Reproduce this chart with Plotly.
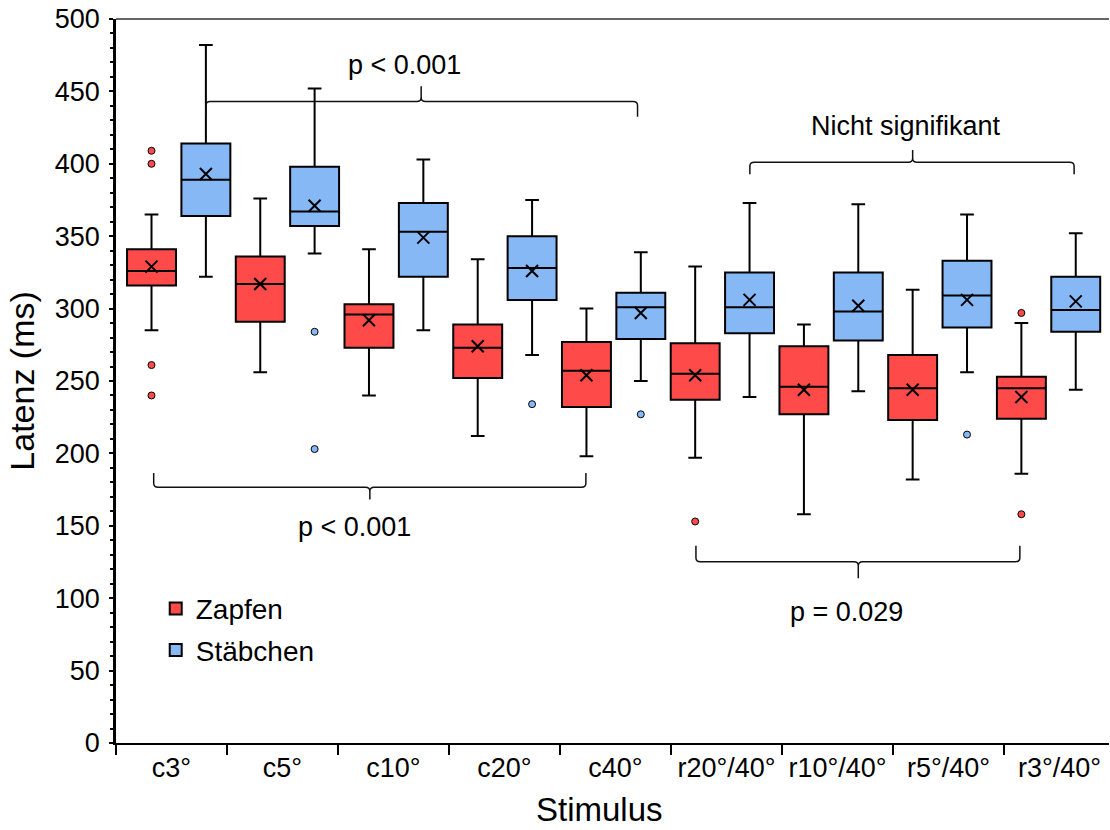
import plotly.graph_objects as go

# ---------------- data ----------------
categories = ["c3°", "c5°", "c10°", "c20°", "c40°", "r20°/40°", "r10°/40°", "r5°/40°", "r3°/40°"]

# Zapfen (cones)
zapfen_lower = [285, 256, 240, 212, 198, 197, 158, 182, 186]
zapfen_q1 = [316, 291, 273, 252, 232, 237, 227, 223, 224]
zapfen_median = [326, 317, 296, 273, 257, 255, 246, 245, 245]
zapfen_q3 = [341, 336, 303, 289, 277, 276, 274, 268, 253]
zapfen_upper = [365, 376, 341, 334, 300, 329, 289, 313, 290]
zapfen_mean = [329, 317, 292, 274, 254, 254, 244, 244, 239]
zapfen_out_cat = ["c3°", "c3°", "c3°", "c3°", "r20°/40°", "r3°/40°", "r3°/40°"]
zapfen_out_val = [409, 400, 261, 240, 153, 297, 158]

# Stäbchen (rods)
staebchen_lower = [322, 338, 285, 268, 250, 239, 243, 256, 244]
staebchen_q1 = [364, 357, 322, 306, 279, 283, 278, 287, 284]
staebchen_median = [389, 367, 353, 328, 301, 301, 298, 309, 299]
staebchen_q3 = [414, 398, 373, 350, 311, 325, 325, 333, 322]
staebchen_upper = [482, 452, 403, 375, 339, 373, 372, 365, 352]
staebchen_mean = [393, 371, 349, 326, 297, 306, 302, 306, 305]
staebchen_out_cat = ["c5°", "c5°", "c20°", "c40°", "r5°/40°"]
staebchen_out_val = [284, 203, 234, 227, 213]

# ---------------- styling ----------------
RED = "#FF4A4A"
BLUE = "#85B8F5"
FONT = "Liberation Sans, Arial, sans-serif"

fig = go.Figure()
n = len(categories)
zapfen_pos = [i - 0.25 for i in range(n)]
staebchen_pos = [i + 0.25 for i in range(n)]

# invisible trace that establishes the category axis
fig.add_trace(go.Scatter(x=categories, y=zapfen_median, mode="markers",
                         marker=dict(opacity=0), showlegend=False, hoverinfo="skip"))


def add_series(name, pos, lo, q1, med, q3, up, mean, out_cat, out_val, color):
    fig.add_trace(go.Box(
        name=name, x=pos, q1=q1, median=med, q3=q3, lowerfence=lo, upperfence=up,
        fillcolor=color, line=dict(color="black", width=2), width=0.45,
        whiskerwidth=0.28, boxpoints=False, xaxis="x2", yaxis="y",
        legendgroup=name, showlegend=True))
    fig.add_trace(go.Scatter(
        x=pos, y=mean, mode="markers", xaxis="x2", yaxis="y",
        marker=dict(symbol="x-thin", size=12, color="black",
                    line=dict(color="black", width=2)),
        showlegend=False, legendgroup=name, hoverinfo="y"))
    ox = [pos[categories.index(c)] for c in out_cat]
    fig.add_trace(go.Scatter(
        x=ox, y=out_val, mode="markers", xaxis="x2", yaxis="y",
        marker=dict(symbol="circle", size=7, color=color,
                    line=dict(color="black", width=1)),
        showlegend=False, legendgroup=name, hoverinfo="y"))


add_series("Zapfen", zapfen_pos, zapfen_lower, zapfen_q1, zapfen_median, zapfen_q3,
           zapfen_upper, zapfen_mean, zapfen_out_cat, zapfen_out_val, RED)
add_series("Stäbchen", staebchen_pos, staebchen_lower, staebchen_q1, staebchen_median,
           staebchen_q3, staebchen_upper, staebchen_mean, staebchen_out_cat,
           staebchen_out_val, BLUE)

# ---------------- brackets ----------------
RX = 0.04
RY = 2.8


def brace(x0, x1, xm, yh, ye, yt):
    s = 1 if ye > yh else -1
    p = (f"M{x0},{ye} L{x0},{yh + s * RY} Q{x0},{yh} {x0 + RX},{yh} "
         f"L{xm - RX},{yh} Q{xm},{yh} {xm},{yh - s * RY} L{xm},{yt} "
         f"M{xm},{yh - s * RY} Q{xm},{yh} {xm + RX},{yh} "
         f"L{x1 - RX},{yh} Q{x1},{yh} {x1},{yh + s * RY} L{x1},{ye}")
    return dict(type="path", path=p, xref="x2", yref="y",
                line=dict(color="#111", width=1.5))


brackets = [
    (0.25, 4.22, 2.23, 443, 432.5, 453.5),
    (-0.23, 3.745, 1.758, 176.6, 186.5, 168.2),
    (5.253, 8.235, 6.75, 401, 392.7, 409.5),
    (4.757, 7.736, 6.25, 125.2, 136.3, 113.7),
]
shapes = [brace(*b) for b in brackets]
shapes.append(dict(type="line", xref="paper", yref="paper", x0=0, x1=1, y0=1, y1=1,
                   line=dict(color="#333", width=1.3)))

labels = [
    ("p < 0.001", 2.08, 468),
    ("p < 0.001", 1.62, 149),
    ("Nicht signifikant", 6.69, 426),
    ("p = 0.029", 6.14, 90.5),
]
annotations = [dict(text=t, x=x, y=y, xref="x2", yref="y", showarrow=False,
                    xanchor="center", yanchor="middle",
                    font=dict(size=27, color="black", family=FONT))
               for t, x, y in labels]
annotations.append(dict(text="Latenz (ms)", xref="paper", yref="paper", x=-0.095, y=0.5,
                        textangle=-90, showarrow=False, xanchor="center", yanchor="middle",
                        font=dict(size=34, color="black", family=FONT)))
annotations.append(dict(text="Stimulus", xref="paper", yref="paper", x=0.4874, y=-0.0925,
                        showarrow=False, xanchor="center", yanchor="middle",
                        font=dict(size=33, color="black", family=FONT)))

fig.update_layout(
    width=1110, height=830,
    margin=dict(l=116, r=1, t=19, b=87),
    paper_bgcolor="white", plot_bgcolor="white",
    font=dict(family=FONT, color="black"),
    boxmode="overlay",
    showlegend=True,
    legend=dict(x=0.04, y=0.157, xanchor="left", yanchor="middle",
                font=dict(size=28, color="black", family=FONT),
                traceorder="grouped", tracegroupgap=2, bgcolor="rgba(0,0,0,0)"),
    xaxis=dict(type="category", categoryorder="array", categoryarray=categories,
               range=[-0.5, 8.446], tickson="boundaries", ticks="outside", ticklen=10,
               tickwidth=1.5, tickcolor="black", showline=True, linecolor="black",
               linewidth=2, showgrid=False, zeroline=False,
               tickfont=dict(size=27, color="black", family=FONT)),
    xaxis2=dict(overlaying="x", range=[-0.5766, 8.5558], visible=False,
                showgrid=False, zeroline=False),
    yaxis=dict(range=[0, 500], tick0=0, dtick=50, ticks="outside", ticklen=4,
               tickwidth=2, tickcolor="black", showline=True, linecolor="black",
               linewidth=2.5, showgrid=False, zeroline=False, ticklabelstandoff=4,
               tickfont=dict(size=27, color="black", family=FONT),
               minor=dict(dtick=10, ticks="outside", ticklen=3, tickwidth=1.5,
                          tickcolor="black", showgrid=False)),
    shapes=shapes,
    annotations=annotations,
)

fig.write_html("out.html", config={"displayModeBar": False},
               post_script="document.body.style.margin='0';document.body.style.overflow='hidden';")
